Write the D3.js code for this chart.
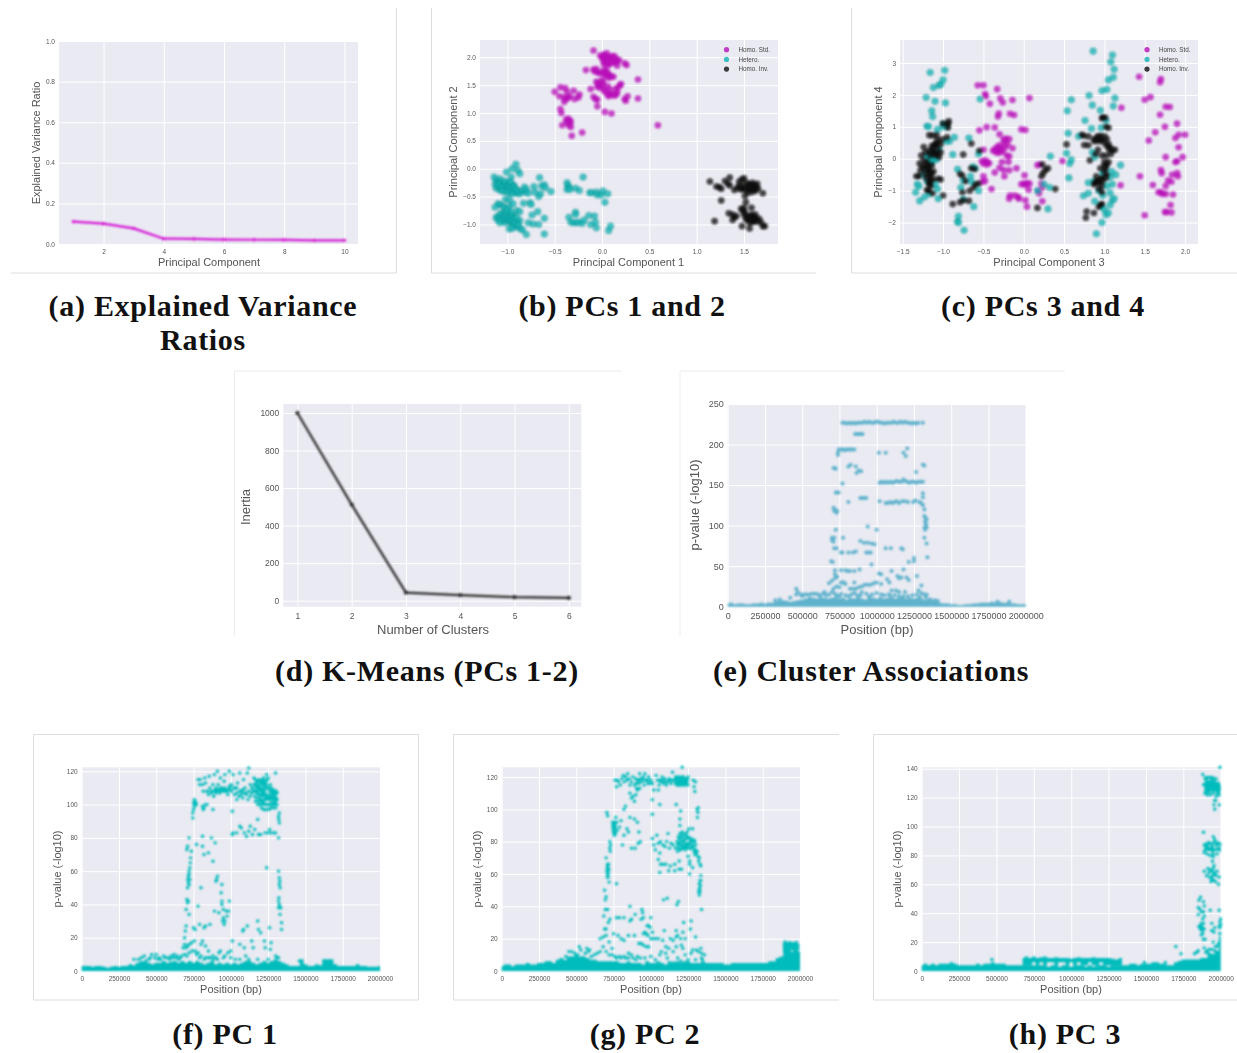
<!DOCTYPE html>
<html>
<head>
<meta charset="utf-8">
<script src="https://cdnjs.cloudflare.com/ajax/libs/d3/7.8.5/d3.min.js"></script>
<style>
body { margin: 0; background: #fff; }
text { font-family: "Liberation Sans", Arial, sans-serif; }
.caption { font-family: "Liberation Serif", serif; font-weight: bold; font-size: 30px; fill: #111; text-anchor: middle; letter-spacing: .7px; }
</style>
</head>
<body>
<svg id="chart" width="1237" height="1053"></svg>
<script>
/* (a) and (d) line charts */
var components = [1, 2, 3, 4, 5, 6, 7, 8, 9, 10];
var varianceRatio = [0.11, 0.1, 0.077, 0.026, 0.025, 0.022, 0.021, 0.02, 0.018, 0.018];
var clusterCounts = [1, 2, 3, 4, 5, 6];
var inertia = [1000, 512, 43, 30, 19, 15];

var genotypes = ["Homo. Std.", "Hetero.", "Homo. Inv."];

/* (b) PC1 vs PC2 */
var pc12Std = [[-0.09,2.12],[-0.02,2.03],[0,2],[0.02,2.05],[0.04,1.97],[0.05,2.07],[0.06,1.98],[0.01,1.95],[0.03,1.92],[0.07,2],[0.09,1.95],[0.1,2.02],[0.12,1.98],[0.13,2.02],[0.15,1.97],[0.12,1.93],[0.08,1.88],[0.06,1.85],[0.16,1.93],[0.18,1.95],[0.24,1.89],[0.26,1.86],[0.16,1.85],[-0.17,1.77],[-0.09,1.78],[-0.08,1.75],[-0.06,1.79],[-0.05,1.73],[-0.03,1.72],[0.02,1.77],[0.04,1.75],[0.03,1.7],[0.06,1.72],[0.05,1.67],[0.1,1.65],[0.08,1.68],[0.12,1.65],[0.38,1.6],[-0.06,1.56],[-0.04,1.54],[0,1.6],[0.01,1.55],[-0.03,1.5],[0.01,1.5],[-0.05,1.47],[-0.02,1.45],[-0.12,1.43],[0.06,1.48],[0.08,1.42],[0.14,1.43],[0.17,1.46],[0.19,1.5],[0.2,1.52],[0.02,1.42],[0.03,1.38],[0.06,1.33],[0.08,1.35],[0.07,1.3],[0.1,1.33],[0.13,1.31],[0.15,1.33],[0.16,1.37],[-0.09,1.29],[-0.07,1.25],[-0.05,1.24],[0.24,1.25],[0.27,1.3],[0.25,1.22],[0.38,1.26],[-0.05,1.12],[0.03,1.02],[0.1,0.99],[0.59,0.78],[-0.5,1.38],[-0.44,1.46],[-0.39,1.45],[-0.37,1.38],[-0.45,1.3],[-0.4,1.28],[-0.38,1.25],[-0.36,1.27],[-0.34,1.3],[-0.4,1.2],[-0.3,1.4],[-0.29,1.25],[-0.25,1.28],[-0.24,1.33],[-0.44,1.07],[-0.43,1],[-0.38,0.88],[-0.36,0.9],[-0.34,0.87],[-0.33,0.84],[-0.37,0.83],[-0.42,0.78],[-0.35,0.78],[-0.33,0.75],[-0.32,0.59],[-0.21,0.65],[0.01,2],[0.03,2.03],[0.05,2],[0.08,1.97],[0.1,1.9],[0.14,1.9],[0.02,1.88],[0.04,1.9],[0,1.72],[0.07,1.63]];
var pc12Het = [[-0.91,0.08],[-0.95,0],[-0.89,-0.03],[-0.87,-0.09],[-1.01,-0.06],[-0.96,-0.15],[-1.14,-0.15],[-1.12,-0.21],[-1.08,-0.18],[-1.13,-0.28],[-1.12,-0.35],[-1.1,-0.25],[-1.1,-0.32],[-1.08,-0.38],[-1.07,-0.24],[-1.06,-0.3],[-1.05,-0.36],[-1.04,-0.27],[-1.03,-0.41],[-1.02,-0.33],[-1.01,-0.25],[-1,-0.37],[-0.99,-0.3],[-0.98,-0.43],[-0.97,-0.34],[-0.96,-0.27],[-0.95,-0.4],[-0.94,-0.36],[-0.93,-0.3],[-0.92,-0.42],[-0.91,-0.37],[-0.9,-0.44],[-0.89,-0.39],[-0.87,-0.45],[-0.85,-0.4],[-0.82,-0.33],[-0.81,-0.42],[-0.8,-0.37],[-0.78,-0.44],[-0.72,-0.32],[-0.71,-0.42],[-0.67,-0.5],[-0.65,-0.45],[-0.66,-0.16],[-0.64,-0.31],[-0.61,-0.29],[-0.6,-0.34],[-0.54,-0.41],[-1.02,-0.55],[-0.98,-0.56],[-1.1,-0.63],[-1.08,-0.64],[-1.13,-0.69],[-1.05,-0.67],[-0.98,-0.68],[-0.94,-0.63],[-0.83,-0.62],[-0.76,-0.61],[-0.75,-0.64],[-0.68,-0.77],[-0.74,-0.83],[-0.9,-0.75],[-0.87,-0.77],[-1.12,-0.88],[-1.1,-0.85],[-1.1,-0.92],[-1.07,-0.8],[-1.06,-0.88],[-1.05,-0.94],[-1.04,-0.83],[-1.03,-0.9],[-1.02,-0.97],[-1.01,-0.85],[-1,-0.92],[-0.99,-0.8],[-0.98,-0.87],[-0.97,-0.95],[-0.96,-0.9],[-0.95,-1],[-0.94,-0.84],[-0.93,-0.93],[-0.92,-1.03],[-0.9,-0.95],[-0.89,-1.05],[-0.87,-0.93],[-0.86,-1.08],[-0.84,-1.1],[-0.8,-1.18],[-0.78,-0.97],[-0.73,-0.99],[-0.67,-1],[-0.61,-0.89],[-0.61,-1.17],[-0.98,-1.08],[-0.95,-1.07],[-0.37,-0.25],[-0.36,-0.3],[-0.37,-0.37],[-0.35,-0.33],[-0.34,-0.37],[-0.28,-0.35],[-0.24,-0.39],[-0.2,-0.15],[-0.13,-0.43],[-0.11,-0.43],[-0.06,-0.42],[-0.05,-0.47],[-0.01,-0.47],[0.01,-0.4],[0.06,-0.45],[0.03,-0.6],[-0.35,-0.87],[-0.33,-0.96],[-0.3,-0.97],[-0.28,-0.78],[-0.28,-0.82],[-0.27,-0.97],[-0.25,-0.96],[-0.21,-0.98],[-0.19,-0.92],[-0.14,-0.84],[-0.12,-1],[-0.08,-0.85],[-0.07,-0.96],[-0.06,-1.06],[0.07,-1.11],[0.09,-1.03],[-1.09,-0.28],[-1.07,-0.34],[-1.04,-0.32],[-1.02,-0.38],[-1,-0.28],[-0.98,-0.33],[-0.96,-0.38],[-0.94,-0.3],[-0.92,-0.35],[-0.9,-0.4],[-1.06,-0.4],[-1,-0.42],[-0.95,-0.45],[-1.03,-0.22],[-0.97,-0.23],[-1.08,-0.9],[-1.06,-0.82],[-1.04,-0.88],[-1.02,-0.84],[-1,-0.88],[-0.98,-0.92],[-0.96,-0.85],[-0.95,-0.93],[-0.93,-0.88],[-0.92,-0.97],[-0.9,-0.88],[-1.02,-0.78],[-0.96,-0.78],[-1.08,-0.97],[-0.88,-1],[-1.03,-0.7],[-1,-0.73]];
var pc12Inv = [[1.14,-0.23],[1.21,-0.32],[1.24,-0.33],[1.26,-0.36],[1.3,-0.22],[1.33,-0.27],[1.35,-0.3],[1.35,-0.16],[1.4,-0.38],[1.43,-0.34],[1.45,-0.23],[1.47,-0.37],[1.48,-0.19],[1.5,-0.3],[1.5,-0.17],[1.52,-0.38],[1.53,-0.25],[1.54,-0.43],[1.55,-0.33],[1.56,-0.37],[1.57,-0.3],[1.58,-0.42],[1.59,-0.25],[1.6,-0.35],[1.61,-0.29],[1.62,-0.4],[1.63,-0.33],[1.65,-0.36],[1.64,-0.27],[1.7,-0.44],[1.51,-0.49],[1.26,-0.57],[1.19,-0.94],[1.34,-0.8],[1.38,-0.82],[1.4,-0.87],[1.38,-0.92],[1.42,-0.85],[1.47,-0.72],[1.49,-0.75],[1.5,-0.7],[1.5,-0.82],[1.51,-0.78],[1.52,-0.9],[1.53,-0.85],[1.54,-0.92],[1.55,-0.87],[1.56,-0.97],[1.57,-0.9],[1.58,-0.82],[1.59,-0.95],[1.6,-0.86],[1.61,-0.92],[1.62,-0.82],[1.63,-0.9],[1.64,-0.95],[1.66,-0.9],[1.68,-0.96],[1.7,-1.03],[1.72,-1.03],[1.48,-1.03],[1.56,-1.07],[1.58,-0.7],[1.52,-0.6],[1.57,-0.35],[1.59,-0.33],[1.61,-0.37],[1.6,-0.31],[1.56,-0.28],[1.62,-0.35],[1.58,-0.88],[1.6,-0.9],[1.57,-0.86],[1.55,-0.9],[1.62,-0.88],[1.59,-0.85],[1.6,-0.95],[1.47,-0.35],[1.5,-0.35],[1.45,-0.3]];

/* (c) PC3 vs PC4 */
var pc34Std = [[-0.57,2.3],[-0.5,2.3],[-0.33,2.18],[-0.48,2.03],[-0.47,1.96],[-0.29,1.89],[-0.26,1.76],[-0.14,1.84],[0.07,1.9],[-0.42,1.72],[-0.31,1.42],[-0.32,1.32],[-0.17,1.41],[-0.12,1.37],[-0.55,0.89],[-0.46,0.99],[-0.36,0.98],[-0.3,0.77],[-0.03,0.92],[0.02,0.9],[-0.38,0.25],[-0.36,0.3],[-0.34,0.2],[-0.33,0.37],[-0.32,0.28],[-0.31,0.18],[-0.3,0.42],[-0.29,0.25],[-0.28,0.33],[-0.26,0.22],[-0.25,0.6],[-0.24,0.5],[-0.23,0.35],[-0.22,0.63],[-0.21,0.1],[-0.2,0.45],[-0.18,0.62],[-0.18,0.08],[-0.14,0.33],[-0.5,0.28],[-0.52,-0.08],[-0.5,-0.15],[-0.48,-0.05],[-0.46,-0.18],[-0.45,-0.1],[-0.43,-0.14],[-0.5,-0.55],[-0.51,-0.72],[-0.48,-0.7],[-0.4,-0.95],[-0.36,-0.43],[-0.3,-0.28],[-0.27,-0.1],[-0.25,-0.35],[-0.24,-0.55],[-0.19,-0.1],[-0.18,-0.36],[-0.09,-0.3],[-0.18,-1.25],[-0.17,-1.15],[-0.11,-1.15],[-0.07,-1.2],[-0.06,-1.25],[0.02,-1.3],[0.04,-1.5],[-0.03,-0.8],[0,-0.78],[0.02,-0.82],[0.04,-0.76],[0.07,-0.78],[0.01,-0.52],[0.06,-0.97],[0.17,-0.2],[0.2,-0.18],[0.22,-0.78],[0.23,-0.9],[0.18,-1],[0.19,-1.08],[0.23,-1.33],[0.48,-0.07],[1.43,2.57],[1.7,2.5],[1.69,2.4],[1.5,1.85],[1.57,1.93],[1.21,1.6],[1.76,1.63],[1.81,1.62],[1.69,1.38],[1.75,1],[1.9,1.1],[1.63,0.83],[1.55,0.57],[1.88,0.65],[1.92,0.75],[2,0.75],[1.92,0.36],[1.76,0.05],[1.97,0.05],[1.88,-0.1],[1.9,-0.08],[1.44,-0.55],[1.7,-0.35],[1.71,-0.45],[1.84,-0.5],[1.9,-0.45],[1.91,-0.55],[1.6,-0.82],[1.79,-0.68],[1.83,-0.72],[1.76,-0.85],[1.67,-1.05],[1.7,-1.05],[1.72,-1.1],[1.76,-1.1],[1.85,-1.12],[1.82,-1.45],[1.5,-1.77],[1.75,-1.67],[1.77,-1.67],[1.83,-1.68],[1.2,-0.83]];
var pc34Het = [[-1.16,2.7],[-0.98,2.77],[-1.12,2.23],[-1.05,2.3],[-1.03,2.33],[-1,2.47],[-1.21,1.92],[-1.1,1.8],[-0.97,1.75],[-1.14,1.5],[-1.13,1.32],[-1.2,1.02],[-1.18,1.01],[-1.07,0.92],[-1,1],[-1,1.1],[-0.95,1],[-0.86,0.67],[-0.92,0.55],[-0.88,0.13],[-0.96,0.55],[-1.2,0.1],[-1.18,0.02],[-1.17,-0.1],[-1.15,0.2],[-1.13,0.05],[-1.12,-0.05],[-1.1,0.15],[-1.08,-0.02],[-1.05,0.3],[-1.15,-0.15],[-1.34,-1.05],[-1.32,-0.8],[-1.3,-0.86],[-1.29,-1.32],[-1.23,-1.2],[-1.17,-1.1],[-1.07,-0.95],[-1.06,-1.25],[-0.82,-0.33],[-0.78,-0.9],[-0.75,-0.68],[-0.81,-1.8],[-0.82,-1.97],[-0.81,-2],[-0.74,-2.24],[-0.75,-1.27],[-0.66,-0.55],[-0.65,-0.72],[-0.68,0.65],[-0.63,-0.25],[-0.6,-0.3],[-0.62,-1.5],[-0.56,-1],[-0.56,0.15],[-0.54,1.87],[0.17,-1],[0.3,-1.57],[0.25,-0.8],[0.33,0.08],[0.32,-0.9],[0.53,0.17],[0.55,0.8],[0.54,1.5],[0.59,1.85],[0.57,-0.15],[0.59,-0.03],[0.56,-0.6],[0.76,1.2],[0.81,1.98],[0.85,1.68],[0.95,1.52],[0.68,0.7],[0.84,0.95],[0.96,0.97],[0.97,2.13],[1.03,2.17],[1.05,2.47],[1.11,2.55],[1.12,2.8],[1.08,3.03],[1.1,3.25],[0.86,3.37],[1.13,1.9],[1.11,1.65],[1.02,1.2],[1.2,-0.2],[1.14,-0.5],[1.09,-0.4],[1.1,-0.8],[0.8,-0.75],[0.74,-1.16],[0.8,-1.08],[0.88,-1.33],[0.87,-0.7],[0.93,-1],[0.97,-1.5],[0.98,-1.15],[1,-1.6],[1.02,-1.75],[1.05,-1.7],[1.07,-1.45],[1.1,-1.3],[1.12,-1.25],[1.07,-1.07],[1.03,-0.85],[1.07,-0.58],[0.98,-0.45],[0.97,-2],[0.9,-2.35],[0.85,0.2],[0.88,0.05],[-1.2,-0.35],[-1.25,-0.5],[-1.2,-0.7],[-1.1,-0.8]];
var pc34Inv = [[-0.93,1.17],[-0.94,1.1],[-1,1.1],[-0.94,0.98],[-1.17,0.74],[-1.13,0.73],[-1.08,0.75],[-1.07,0.6],[-1.01,0.6],[-0.95,0.67],[-1.24,0.37],[-1.14,0.4],[-1.11,0.42],[-1.09,0.45],[-1.07,0.5],[-1.03,0.45],[-1.27,0.1],[-1.22,0.2],[-1.17,0.25],[-1.12,0.2],[-1.07,0.15],[-1.03,0.2],[-1.24,-0.05],[-1.29,-0.15],[-1.26,-0.25],[-1.21,-0.2],[-1.18,-0.35],[-1.28,-0.37],[-1.33,-0.55],[-1.3,-0.55],[-1.22,-0.47],[-1.17,-0.4],[-1.14,-0.45],[-1.21,-0.6],[-1.17,-0.8],[-1.15,-0.68],[-1.12,-0.65],[-1.06,-0.63],[-1.03,-0.65],[-1.2,-0.98],[-1.18,-1],[-1.13,-1.08],[-1,-1.15],[-1.16,-0.6],[-0.88,-1.42],[-0.79,-1.36],[-0.75,-1.3],[-0.68,-1.32],[-0.67,-1],[-0.76,-1.05],[-0.79,-0.47],[-0.76,-0.53],[-0.72,-0.7],[-0.62,-0.9],[-0.6,-0.8],[-0.56,-0.78],[-0.65,-0.3],[-0.61,-0.32],[-0.55,0.25],[-0.65,0.48],[-0.75,0.13],[0.22,-0.55],[0.24,-0.45],[0.27,-0.35],[0.3,-0.3],[0.23,-0.18],[0.39,-0.95],[0.17,-1.54],[0.53,0.45],[0.72,0.75],[0.74,0.72],[0.75,0.43],[0.8,0.42],[0.8,0.7],[0.87,0.6],[0.88,0.55],[0.9,0.65],[0.92,0.7],[0.95,0.72],[0.97,0.58],[1,0.7],[1.03,0.62],[1.05,0.45],[1.07,0.35],[1.1,0.27],[1.13,0.28],[1.08,0.15],[1.02,0.1],[0.97,1.27],[0.98,1.3],[1.01,1.28],[1.02,1],[1.05,0.97],[0.82,-0.05],[0.89,0.15],[0.92,0.28],[0.97,0.1],[1,-0.22],[1.03,-0.18],[1.05,-0.1],[0.95,-0.3],[1,-0.4],[1.03,-0.5],[0.9,-0.55],[0.88,-0.75],[0.92,-0.72],[0.95,-0.65],[0.98,-0.7],[1.02,-0.6],[0.87,-0.8],[0.93,-0.95],[0.97,-1.05],[0.95,-1.44],[0.97,-1.42],[0.78,-1.65],[0.77,-1.85],[0.87,-1.7],[0.93,-1.5],[-1.16,0.1],[-1.14,-0.2],[-1.2,-0.1],[-1.18,-0.25],[-1.12,-0.4],[-1.16,-0.5],[-1.1,0.45],[-1.13,0.3],[-1.07,0.3],[-1.1,0.1],[-1.05,0.05],[-1.18,-0.75],[-1.15,-0.85],[-1.23,-0.3],[0.95,0.6],[0.93,0.55],[1,0.5],[1.03,0.4],[1.06,0.3],[1,-0.1],[1.02,-0.3],[0.97,-0.6],[0.93,-0.75],[0.9,-0.7],[0.97,-0.85]];

/* Manhattan plots: positions in kb, p-value in -log10.
   The top arrays hold the top of the solid low band, one value per 25 kb from 0 to 2000 */
var clusterTops = [4,5,3,4,4,3,3,4,4,5,4,5, 5,6,7,8,7,6,7,8,9,10,12,11,10,11,11,10,11,12,10,11, 9,11,10,12,10,9,12,11,10,12,10,11,12,10,11,12,10,11,10,11,10,9,10, 8,6,5,4,4,3,3,2,2,3,3,4,4,5,5,5,6,5,6,5,5,4,4,3,3,3];
var pc1Tops = [3,3,3,2.5,3,3,2.5,2,2.5,3,2.5,3, 3,4,3.5,5,6,5.5,5,4,5,5,6,5,5.5,6,5,6,5,6,5,6, 5,4,5,6,4,5,4,5,4,5,4,5,6,6,5,4,5,6,5,6,7,6,5, 4,3,3,3,7,4,3,3,4,3.5,7,7,7,4,3,3,3,3,3,4,3,3,2.5,2.5,2.5,3];
var pc2Tops = [3,4,4,3,4,4,4,5,4,4,5,5, 6,6,5,7,8,7,9,9,10,9,9,8,7,7,6,6,6,6,6,6, 5,5,6,5,5,5,4,6,5,5,6,5,4,6,5,6,5,6,6,5,5,5,6, 5,5,5,5,5,4,4,5,5,5,5,5,5,5,5,5,5,6,6,8,9,13,13,12,13,12];
var pc3Tops = [4,5,4,5,4,5,5,5,6,5,4,4, 4,4,4,5,4,5,5,6,5,5,5,4,4,4,4,4,4,4,4,4, 4,4,3,4,4,3,4,4,3,4,4,4,3,4,3,4,4,4,3,4,4,4,4, 4,5,5,4,5,5,5,6,6,5,5,4,4,6,7,8,8,8,8,8,9,9,12,12,14,24];

/* solid blocks as [kb, bottom, top] */
var pc2Block = [[1885,12,18],[1900,12,19],[1915,13,18],[1930,12,18.5],[1945,13,18],[1960,12,18],[1975,12,18.5],[1995,13,17]];
var pc3Band = [[675,4,9],[700,4,10],[725,4,9],[750,6,10],[775,4,9],[800,6,9.5],[825,4,10],[850,6,9],[875,6,9],[900,4,9.5],[925,6,9],[950,6,9],[975,4,9],[1000,6,8.5],[1025,4,9],[1050,6,9.5],[1075,4,9],[1100,4,9],[1125,6,9],[1150,4,9.5],[1175,4,9],[1200,6,9],[1225,4,9],[1250,4,9],[1275,4,8.5],[1300,4,8],[1335,4,9],[1345,4,4]];
var pc3High = [[1890,124,131],[1905,123,133],[1920,123,132],[1940,124,133],[1960,124,132],[1975,122,131],[1990,123,131],[2000,124,129]];
var pc3Mid = [[1885,83,85],[1905,83,87],[1925,83,86],[1945,82,87],[1965,83,85],[1985,83,86],[2000,82,87]];

var clusterPoints = [[770,227],[785,227],[800,226],[815,227],[830,226],[845,227],[860,226],[875,227],[890,227],[905,227],[920,228],[935,227],[950,228],[965,227],[980,227],[995,228],[1010,228],[1025,227],[1040,227],[1055,226],[1070,227],[1085,227],[1100,227],[1115,228],[1130,227],[1145,227],[1160,228],[1175,227],[1190,228],[1205,227],[1220,227],[1235,226],[1250,227],[1265,226],[1280,227],[1310,227],[855,213],[865,213],[875,213],[885,213],[895,213],[905,213],[740,190],[740,187],[745,194],[755,194],[765,194],[775,194],[785,193],[795,194],[805,194],[815,194],[825,194],[835,194],[850,194],[1015,190],[1060,190],[1180,190],[1205,195],[1195,186],[710,171],[720,171],[725,170],[810,173],[825,175],[860,173],[865,165],[880,168],[895,167],[1020,153],[1032,154],[1045,153],[1060,154],[1075,153],[1090,154],[1105,153],[1120,154],[1135,155],[1150,154],[1165,154],[1180,157],[1190,155],[1205,154],[1220,153],[1235,154],[1250,154],[1265,153],[1280,154],[1295,154],[1310,154],[770,152],[725,141],[735,141],[745,141],[1310,140],[1310,135],[1310,175],[1320,174],[1265,166],[810,129],[1020,130],[1060,128],[1075,128],[1090,129],[1105,128],[1120,129],[1135,130],[1150,128],[1170,130],[1190,130],[1210,129],[1245,129],[1260,131],[1285,129],[1300,128],[1310,125],[1320,120],[890,134],[900,134],[915,134],[930,134],[710,122],[715,118],[720,120],[730,116],[735,118],[1320,112],[1325,105],[1325,110],[1330,100],[1325,95],[1330,103],[1335,108],[1320,97],[1335,98],[1320,85],[1335,78],[1340,61],[940,99],[1000,95],[725,95],[700,85],[715,85],[700,82],[710,80],[775,85],[890,81],[915,79],[940,79],[965,78],[985,77],[715,72],[730,72],[760,67],[770,67],[810,67],[840,67],[860,68],[930,67],[945,67],[960,67],[1060,72],[1095,72],[1165,72],[1175,71],[695,56],[705,55],[965,52],[1215,55],[1250,60],[1250,56],[720,45],[720,40],[760,45],[790,45],[805,44],[820,44],[850,44],[885,46],[1015,41],[1030,40],[1100,44],[1180,46],[735,37],[720,35],[700,32],[680,29],[760,30],[770,30],[780,30],[790,28],[730,25],[710,22],[750,24],[850,30],[820,22],[840,22],[860,22],[880,24],[900,25],[920,27],[940,27],[960,27],[980,29],[1000,30],[1030,28],[1070,34],[1085,30],[1140,38],[1150,35],[1165,36],[1200,36],[1215,33],[1270,38],[1300,26],[1280,20],[1300,17],[1320,15],[1335,15],[1100,20],[1130,20],[1150,18],[1190,18],[1080,15],[460,22],[470,18],[460,15],[490,15],[510,15],[530,15],[550,15],[570,16],[590,16],[610,15],[640,16],[650,18],[680,15],[700,18],[730,14],[760,16],[790,14],[830,15],[870,14],[900,18],[930,16],[970,15],[1000,17],[1050,14],[1120,14],[1180,13],[1240,14],[1270,15],[1390,8],[1410,7],[350,9],[1810,6],[1890,6],[320,8],[420,11],[500,13],[620,13],[660,14],[720,16],[750,13],[810,13],[850,17],[890,14],[950,13],[1030,15],[1090,14],[1150,13],[1210,13],[1290,12],[1330,12],[1360,9]];

var pc1Points = [[745,92],[745,95],[750,97],[755,99],[760,100],[765,101],[755,103],[760,102],[770,100],[750,101],[810,99],[815,97],[820,98],[830,100],[840,100],[880,97],[780,115],[790,112],[795,115],[810,112],[815,108],[825,116],[830,113],[845,108],[850,106],[855,117],[860,110],[870,108],[880,112],[885,105],[890,118],[895,109],[905,108],[910,120],[915,112],[925,107],[930,116],[940,110],[950,108],[955,114],[960,118],[970,109],[980,106],[990,120],[995,110],[1005,112],[1015,118],[1025,106],[1030,110],[1040,103],[1045,113],[1055,105],[1060,119],[1070,108],[1080,104],[1085,115],[1095,110],[1105,106],[1110,119],[1115,103],[1120,122],[1130,112],[1140,107],[1145,110],[1155,116],[1160,108],[1165,102],[1170,113],[1175,107],[1180,100],[1185,111],[1190,115],[1195,104],[1200,109],[1205,98],[1205,113],[1210,106],[1215,110],[1220,101],[1220,116],[1225,108],[1230,103],[1230,112],[1235,97],[1240,118],[1240,106],[1245,100],[1250,110],[1255,97],[1255,104],[1265,106],[1270,101],[1275,108],[1280,103],[1285,100],[1285,107],[1290,105],[1295,102],[1298,108],[1300,104],[1300,119],[1190,109],[1200,106],[1210,112],[1215,102],[1225,114],[1175,111],[1168,108],[1160,112],[1245,115],[1235,110],[1010,96],[1010,82],[1015,83],[1040,83],[1060,87],[1070,86],[1090,83],[1105,81],[1120,84],[1130,87],[1145,82],[1160,85],[1180,91],[1185,82],[1200,82],[1230,83],[1250,83],[1260,85],[1270,83],[1290,83],[1300,83],[1320,80],[1325,89],[1320,93],[1325,95],[1322,91],[720,80],[710,75],[705,73],[735,72],[730,68],[728,65],[725,62],[720,60],[715,57],[712,55],[715,53],[720,52],[710,50],[725,55],[720,58],[705,43],[710,41],[715,42],[700,37],[720,34],[695,24],[700,27],[690,20],[690,16],[700,14],[710,15],[720,16],[735,17],[755,18],[770,76],[810,81],[810,75],[820,70],[850,71],[870,80],[880,66],[895,77],[800,50],[780,39],[910,57],[905,55],[900,54],[940,52],[935,47],[940,42],[940,40],[890,36],[920,35],[950,37],[970,36],[990,42],[975,33],[960,30],[950,32],[955,28],[945,30],[985,36],[790,28],[830,27],[820,26],[760,25],[750,26],[860,28],[1080,24],[1085,25],[1110,27],[1180,30],[1185,25],[1200,23],[1260,26],[1240,62],[1320,60],[1325,56],[1328,54],[1330,50],[1325,52],[1322,44],[1320,42],[1325,40],[1330,38],[1335,38],[1320,38],[1330,34],[1340,29],[1340,25],[1010,18],[1060,16],[1090,14],[1140,18],[1150,14],[1225,18],[1230,14],[1270,17],[1265,13],[420,9],[450,7],[470,10],[500,10],[520,8],[550,9],[580,8],[600,9],[620,10],[640,9],[660,8],[680,14],[760,12],[780,11],[800,16],[810,18],[830,15],[850,12],[800,9],[830,8],[860,8],[880,7],[900,8],[920,11],[930,12],[960,9],[980,11],[1000,12],[1030,7],[1100,9],[1310,8],[1320,8],[1460,6]];
var pc1Dense = [[1150,108],[1155,112],[1160,105],[1165,115],[1170,110],[1175,104],[1180,108],[1180,114],[1185,106],[1185,102],[1190,112],[1190,106],[1195,100],[1195,110],[1200,114],[1200,103],[1205,108],[1205,102],[1210,115],[1210,100],[1210,108],[1215,105],[1215,113],[1220,107],[1220,112],[1220,97],[1225,103],[1225,110],[1230,100],[1230,106],[1235,114],[1235,104],[1240,100],[1240,112],[1245,105],[1245,110],[1250,103],[1250,116],[1255,110],[1255,100],[1260,108],[1260,103],[1265,112],[1265,98],[1270,105],[1270,110],[1275,100],[1275,104],[1280,107],[1280,98],[1285,104],[1285,109],[1290,101],[1290,108],[1295,106],[1295,100],[1300,102],[1300,107],[1305,104],[1310,103],[1310,107],[1310,100],[1305,108],[1300,98],[890,108],[900,110],[915,109],[930,108],[945,109],[960,110],[975,108],[990,109],[1005,108],[1020,110],[1040,107],[1060,108],[1080,109],[1100,107],[1120,108],[1140,110],[840,108],[870,107],[900,107],[930,110],[960,108],[990,111],[1040,110],[1070,106],[1090,107],[1130,105],[350,7],[380,7],[400,8],[430,6],[460,8],[490,8],[510,7],[530,7],[560,8],[590,7],[610,8],[630,8],[650,7],[670,9],[690,10],[705,9],[720,11],[740,12],[770,10],[790,8],[820,7],[850,8],[880,9],[910,7],[950,8],[1000,8],[1060,7],[1120,7],[1180,7],[1250,7],[1300,9]];

var pc2Points = [[760,118],[770,114],[775,118],[785,117],[795,115],[805,119],[815,121],[820,117],[830,120],[840,118],[845,122],[855,119],[860,115],[870,117],[880,120],[890,115],[900,119],[905,113],[910,118],[920,116],[925,122],[930,119],[940,117],[950,120],[955,115],[960,122],[970,118],[980,116],[985,120],[1000,118],[1010,116],[1035,121],[1045,118],[1055,115],[1065,117],[1075,120],[1085,116],[1095,119],[1105,115],[1115,117],[1125,119],[1135,116],[1145,123],[1155,118],[1165,116],[1170,119],[1175,115],[1180,120],[1185,117],[1190,118],[1195,115],[1200,119],[1205,116],[1210,120],[1215,118],[1220,115],[1225,117],[1230,119],[1235,116],[1210,126],[1285,118],[1290,114],[1295,111],[1300,117],[860,110],[870,107],[880,108],[890,105],[900,109],[910,112],[925,113],[1010,106],[1020,112],[1050,112],[1010,97],[1060,103],[1170,103],[1200,99],[1195,94],[1195,90],[1310,100],[1315,98],[1312,95],[1318,101],[820,100],[830,102],[800,93],[790,89],[770,92],[775,87],[760,91],[745,90],[748,86],[752,92],[755,84],[758,88],[762,85],[765,95],[820,84],[840,88],[850,86],[860,95],[890,94],[910,92],[920,86],[705,98],[710,96],[810,78],[870,76],[895,76],[915,79],[930,80],[1010,82],[1020,78],[1030,75],[1040,84],[1050,79],[1060,73],[1065,80],[1080,78],[1095,77],[1105,80],[1115,85],[1125,76],[1135,79],[1150,78],[1165,76],[1175,80],[1180,74],[1190,82],[1195,78],[1200,85],[1205,76],[1210,80],[1215,83],[1220,77],[1225,81],[1230,75],[1235,84],[1240,78],[1245,86],[1250,79],[1260,82],[1265,76],[1270,80],[1280,88],[1285,77],[1290,81],[1295,72],[1300,78],[1310,74],[1315,71],[1320,68],[1325,70],[1330,66],[1335,65],[1255,88],[1250,71],[1260,68],[1280,64],[1050,69],[1065,66],[1080,66],[1100,66],[1130,65],[1160,66],[1190,68],[1060,61],[1120,62],[1160,62],[1190,63],[1205,63],[1260,66],[1260,60],[725,80],[730,78],[725,76],[728,74],[700,70],[710,66],[708,64],[712,62],[715,60],[705,62],[718,63],[710,58],[720,55],[770,54],[690,50],[700,46],[695,44],[710,38],[695,38],[685,34],[715,30],[725,32],[700,26],[690,26],[1335,59],[1330,56],[1332,53],[1325,51],[1320,49],[1330,49],[1325,47],[1340,38],[1085,44],[1110,45],[1175,41],[1185,43],[860,40],[770,33],[790,33],[820,33],[860,31],[870,32],[895,35],[935,32],[940,38],[945,36],[950,33],[1000,33],[975,28],[985,28],[995,27],[1220,30],[1270,31],[1265,26],[1215,24],[1170,25],[1090,25],[1010,24],[960,24],[950,23],[970,23],[980,22],[1000,20],[1010,20],[850,22],[890,22],[750,23],[780,22],[800,20],[820,19],[660,20],[680,21],[700,22],[1130,20],[1150,19],[1170,21],[1180,22],[1200,20],[1230,20],[1300,21],[1030,20],[1050,20],[1080,19],[920,17],[935,17],[950,16],[970,15],[985,15],[1100,15],[1120,14],[1170,15],[1205,16],[1215,14],[1280,13],[1305,13],[1320,12],[1335,14],[1340,11],[1360,10],[1345,7],[1150,12],[1100,11],[1060,10],[1000,9],[880,8],[900,7],[760,9],[790,9],[830,8],[850,11],[740,14],[720,18],[660,12],[520,15],[530,13],[470,12],[570,14],[590,13],[1150,5],[1200,6],[1250,7]];
var pc2Dense = [[1160,118],[1165,120],[1170,116],[1175,118],[1180,116],[1182,119],[1188,115],[1192,120],[1198,117],[1202,115],[1208,118],[1212,116],[1218,120],[1222,118],[1228,115],[1232,117],[1238,119],[1242,116],[1245,118],[1248,115],[1250,120],[1060,118],[1080,118],[1100,117],[1120,118],[1140,118],[900,116],[920,118],[940,119],[960,118],[980,118],[1000,116],[1180,78],[1185,76],[1190,79],[1195,81],[1200,75],[1205,83],[1210,78],[1215,76],[1220,81],[1225,85],[1230,79],[1235,77],[1240,82],[1245,76],[1250,83],[1255,78],[1260,76],[1265,80],[1270,82],[1275,78],[1280,76],[1285,80],[1290,74],[1295,80],[1300,75],[1305,73],[1185,83],[1195,85],[1210,86],[750,88],[754,90],[758,86],[762,89],[746,88],[744,92],[760,85],[712,65],[708,60],[716,66],[714,62],[712,58],[1325,54],[1328,51],[1335,56],[400,7],[430,9],[450,12],[470,8],[490,11],[510,10],[540,8],[560,11],[580,12],[600,9],[620,10],[640,11],[680,15],[700,12],[720,10],[740,10],[770,8],[800,8],[820,9],[850,8],[870,10],[910,9],[930,8],[960,8],[1030,7],[1070,12],[1110,8],[1180,8],[1230,10],[1270,11],[1300,7],[1340,8]];

var pc3Points = [[1630,6],[1490,6],[470,8],[690,5],[720,5],[1880,136],[1935,134],[1945,134],[1995,141],[1960,118],[1965,118],[1955,115],[1960,112],[1990,115],[1885,129],[1895,133],[1915,134],[1970,133],[1980,129],[1895,123],[1910,122],[1930,122],[1950,123],[1970,121],[1990,122],[1900,134],[1925,134],[1960,133],[1885,96],[1950,93],[1960,91],[1975,89],[1940,88],[1920,89],[1900,88],[1890,87],[1910,87],[1930,88],[1955,89],[1970,87],[1985,88],[1995,88],[1890,82],[1910,81],[1930,80],[1950,81],[1975,81],[1950,79],[1945,76],[1955,73],[1950,71],[1940,69],[1920,68],[1890,69],[1905,66],[1925,65],[1935,62],[1950,63],[1960,67],[1970,66],[1985,60],[1990,65],[1965,62],[1945,66],[1930,70],[1955,68],[1940,64],[1915,71],[1975,69],[1865,51],[1855,49],[1885,48],[1890,45],[1850,44],[1860,43],[1870,41],[1885,41],[1890,38],[1880,36],[1850,39],[1930,42],[1990,42],[1870,33],[1855,31],[1860,30],[1865,29],[1870,31],[1875,28],[1880,30],[1885,33],[1890,29],[1880,26],[1870,25],[1885,22],[1895,22],[1940,33],[1960,30],[1955,27],[1940,28],[1995,34],[2000,36],[1990,31],[1995,30],[2000,32],[1950,20],[1965,17],[1925,15],[1700,17],[1735,12],[1825,12],[1840,13],[1850,14],[1890,16],[1910,14],[1940,15],[1975,17],[1985,19],[1900,13],[1920,12],[1960,14],[1995,26]];

var positionTicks = [0, 250000, 500000, 750000, 1000000, 1250000, 1500000, 1750000, 2000000];

var purple = "#b80fb8", teal = "#14b4b4", black = "#0c0c0c";
var fmt1 = d3.format(".1f"), fmtInt = d3.format("d");

/* layout of each panel: plot rectangle, label spots and the frame pieces */
var panels = [
  { type: "line", xs: components, ys: varianceRatio, color: "#d418d4", lw: 2.2, r: 1.7,
    left: 59, right: 358, top: 41, bottom: 244, xd: [0.52, 10.45], yd: [0, 1],
    xt: [2, 4, 6, 8, 10], yt: [0, 0.2, 0.4, 0.6, 0.8, 1], xf: fmtInt, yf: fmt1, tick: 6.5,
    xl: "Principal Component", yl: "Explained Variance Ratio", ls: 11, xlx: 209, xly: 266, ylx: 40, yly: 143,
    cap: ["(a) Explained Variance", "Ratios"], capx: 203, capy: 316,
    frame: [[396.5, 8, 396.5, 273], [11, 273, 396.5, 273]] },
  { type: "scatter", sets: [pc12Std, pc12Het, pc12Inv], r: 3.3,
    left: 480, right: 778, top: 40, bottom: 244, xd: [-1.29, 1.86], yd: [-1.35, 2.31],
    xt: [-1, -0.5, 0, 0.5, 1, 1.5], yt: [-1, -0.5, 0, 0.5, 1, 1.5, 2], xf: fmt1, yf: fmt1, tick: 6.5,
    xl: "Principal Component 1", yl: "Principal Component 2", ls: 11, xlx: 628.5, xly: 266, ylx: 457, yly: 142,
    cap: ["(b) PCs 1 and 2"], capx: 622, capy: 316, legx: 726.5,
    frame: [[431.5, 8, 431.5, 273], [431.5, 273, 816, 273]] },
  { type: "scatter", sets: [pc34Std, pc34Het, pc34Inv], r: 3.3,
    left: 900, right: 1198, top: 40, bottom: 244, xd: [-1.534, 2.16], yd: [-2.67, 3.72],
    xt: [-1.5, -1, -0.5, 0, 0.5, 1, 1.5, 2], yt: [-2, -1, 0, 1, 2, 3], xf: fmt1, yf: fmtInt, tick: 6.5,
    xl: "Principal Component 3", yl: "Principal Component 4", ls: 11, xlx: 1049, xly: 266, ylx: 882, yly: 142,
    cap: ["(c) PCs 3 and 4"], capx: 1043, capy: 316, legx: 1147,
    frame: [[851.5, 8, 851.5, 273], [851.5, 273, 1237, 273]] },
  { type: "line", xs: clusterCounts, ys: inertia, color: "#2a2a2a", lw: 2.2, r: 2.1,
    left: 283.3, right: 581.3, top: 404, bottom: 606.7, xd: [0.74, 6.23], yd: [-32, 1048],
    xt: clusterCounts, yt: [0, 200, 400, 600, 800, 1000], xf: fmtInt, yf: fmtInt, tick: 8.5,
    xl: "Number of Clusters", yl: "Inertia", ls: 13, xlx: 433, xly: 634, ylx: 250, yly: 507,
    cap: ["(d) K-Means (PCs 1-2)"], capx: 427, capy: 681, frameColor: "#ececec",
    frame: [[234.5, 371, 234.5, 636], [234.5, 371, 622, 371]] },
  { type: "manhattan", tops: clusterTops, points: clusterPoints, color: "#5fb2cc", r: 2,
    left: 727.7, right: 1025.7, top: 404, bottom: 606.7, yd: [0, 250],
    yt: [0, 50, 100, 150, 200, 250], tick: 9,
    xl: "Position (bp)", yl: "p-value (-log10)", ls: 13, xlx: 877, xly: 634, ylx: 699, yly: 505,
    cap: ["(e) Cluster Associations"], capx: 871, capy: 681, frameColor: "#ececec",
    frame: [[680, 371, 680, 636], [680, 371, 1065, 371]] },
  { type: "manhattan", tops: pc1Tops, points: pc1Points.concat(pc1Dense), color: "#05bcbc", r: 1.7,
    left: 81.7, right: 380, top: 767.3, bottom: 971, yd: [0, 122.4],
    yt: [0, 20, 40, 60, 80, 100, 120], tick: 6.5,
    xl: "Position (bp)", yl: "p-value (-log10)", ls: 11, xlx: 231, xly: 993, ylx: 61, yly: 869,
    cap: ["(f) PC 1"], capx: 225, capy: 1044,
    frame: [[33.5, 734.5, 418.5, 734.5], [418.5, 734.5, 418.5, 1000], [33.5, 1000, 418.5, 1000], [33.5, 734.5, 33.5, 1000]] },
  { type: "manhattan", tops: pc2Tops, blocks: [pc2Block], points: pc2Points.concat(pc2Dense), color: "#05bcbc", r: 1.7,
    left: 501.7, right: 800, top: 767.3, bottom: 971, yd: [0, 126],
    yt: [0, 20, 40, 60, 80, 100, 120], tick: 6.5,
    xl: "Position (bp)", yl: "p-value (-log10)", ls: 11, xlx: 651, xly: 993, ylx: 481, yly: 869,
    cap: ["(g) PC 2"], capx: 645, capy: 1044,
    frame: [[453.5, 734.5, 839, 734.5], [453.5, 1000, 839, 1000], [453.5, 734.5, 453.5, 1000]] },
  { type: "manhattan", tops: pc3Tops, blocks: [pc3Band, pc3High, pc3Mid], points: pc3Points, color: "#05bcbc", r: 1.7,
    left: 921.7, right: 1220.7, top: 767.3, bottom: 971, yd: [0, 141],
    yt: [0, 20, 40, 60, 80, 100, 120, 140], tick: 6.5,
    xl: "Position (bp)", yl: "p-value (-log10)", ls: 11, xlx: 1071, xly: 993, ylx: 901, yly: 869,
    cap: ["(h) PC 3"], capx: 1065, capy: 1044,
    frame: [[873.5, 734.5, 1237, 734.5], [873.5, 1000, 1237, 1000], [873.5, 734.5, 873.5, 1000]] }
];

var svg = d3.select("#chart");

/* the source figure is a downscaled bitmap, so the marks are soft; text only a bit */
var defs = svg.append("defs");
defs.append("filter").attr("id", "soft").attr("x", "-5%").attr("y", "-5%").attr("width", "110%").attr("height", "110%")
    .append("feGaussianBlur").attr("stdDeviation", 0.8);
defs.append("filter").attr("id", "light").attr("x", "-5%").attr("y", "-5%").attr("width", "110%").attr("height", "110%")
    .append("feGaussianBlur").attr("stdDeviation", 0.4);

panels.forEach(function (p) {
  var frame = svg.append("g");
  frame.selectAll("line").data(p.frame).enter().append("line")
      .attr("x1", function (d) { return d[0]; }).attr("y1", function (d) { return d[1]; })
      .attr("x2", function (d) { return d[2]; }).attr("y2", function (d) { return d[3]; })
      .attr("stroke", p.frameColor || "#dedede").attr("stroke-width", 1);

  var plot = svg.append("g").attr("filter", "url(#light)");
  var isPos = p.type == "manhattan";
  var x = d3.scaleLinear().domain(isPos ? [0, 2000000] : p.xd).range([p.left, p.right]);
  var y = d3.scaleLinear().domain(p.yd).range([p.bottom, p.top]);
  var w = p.right - p.left, h = p.bottom - p.top;

  plot.append("rect").attr("x", p.left).attr("y", p.top).attr("width", w).attr("height", h).attr("fill", "#eaeaf2");

  var xAxis = d3.axisBottom(x).tickValues(isPos ? positionTicks : p.xt)
      .tickFormat(isPos ? fmtInt : p.xf).tickSize(-h).tickPadding(p.tick > 8 ? 6 : 5);
  var yAxis = d3.axisLeft(y).tickValues(p.yt)
      .tickFormat(p.yf || fmtInt).tickSize(-w).tickPadding(4);
  [plot.append("g").attr("transform", "translate(0," + p.bottom + ")").call(xAxis),
   plot.append("g").attr("transform", "translate(" + p.left + ",0)").call(yAxis)].forEach(function (a) {
    a.select(".domain").remove();
    a.selectAll("line").attr("stroke", "#fff").attr("stroke-width", 1);
    a.selectAll("text").attr("fill", "#555").attr("font-size", p.tick).attr("font-family", "Liberation Sans");
  });

  plot.append("text").attr("x", p.xlx).attr("y", p.xly).attr("text-anchor", "middle")
      .attr("font-size", p.ls).attr("fill", "#555").text(p.xl);
  plot.append("text").attr("transform", "translate(" + p.ylx + "," + p.yly + ") rotate(-90)").attr("text-anchor", "middle")
      .attr("font-size", p.ls).attr("fill", "#555").text(p.yl);

  var marks = svg.append("g").attr("filter", "url(#soft)");
  if (p.type == "line") {
    var pts = p.xs.map(function (v, k) { return [v, p.ys[k]]; });
    marks.append("path").datum(pts).attr("fill", "none").attr("stroke", p.color).attr("stroke-width", p.lw)
        .attr("d", d3.line().x(function (d) { return x(d[0]); }).y(function (d) { return y(d[1]); }));
    marks.selectAll("circle").data(pts).enter().append("circle")
        .attr("cx", function (d) { return x(d[0]); }).attr("cy", function (d) { return y(d[1]); })
        .attr("r", p.r).attr("fill", p.color);
  }
  if (p.type == "scatter") {
    var colors = [purple, teal, black];
    p.sets.forEach(function (set, s) {
      marks.append("g").selectAll("circle").data(set).enter().append("circle")
          .attr("cx", function (d) { return x(d[0]); }).attr("cy", function (d) { return y(d[1]); })
          .attr("r", p.r).attr("fill", colors[s]).attr("fill-opacity", 0.76)
          .attr("stroke", s == 1 ? "#0a6f6f" : "none").attr("stroke-opacity", 0.55).attr("stroke-width", 0.5);
    });
    var legend = svg.append("g").attr("filter", "url(#light)");
    genotypes.forEach(function (name, s) {
      var ly = 49.7 + s * 9.7;
      legend.append("circle").attr("cx", p.legx).attr("cy", ly).attr("r", 2.6).attr("fill", colors[s]).attr("fill-opacity", 0.8);
      legend.append("text").attr("x", p.legx + 12).attr("y", ly + 2.2).attr("font-size", 6.3).attr("fill", "#444").text(name);
    });
  }
  if (p.type == "manhattan") {
    var area = d3.area().curve(d3.curveStep)
        .x(function (d) { return x(d[0] * 1000); })
        .y0(function (d) { return y(d[1]); })
        .y1(function (d) { return y(d[2]); });
    var base = p.tops.map(function (t, k) { return [k * 25, 0, t]; });
    marks.append("path").datum(base).attr("fill", p.color).attr("d", area);
    (p.blocks || []).forEach(function (block) {
      marks.append("path").datum(block).attr("fill", p.color).attr("d", area);
    });
    marks.selectAll("circle").data(p.points).enter().append("circle")
        .attr("cx", function (d) { return x(d[0] * 1000); }).attr("cy", function (d) { return y(d[1]); })
        .attr("r", p.r).attr("fill", p.color);
  }

  p.cap.forEach(function (line, k) {
    svg.append("text").attr("class", "caption").attr("x", p.capx).attr("y", p.capy + k * 34).text(line);
  });
});
</script>
</body>
</html>
